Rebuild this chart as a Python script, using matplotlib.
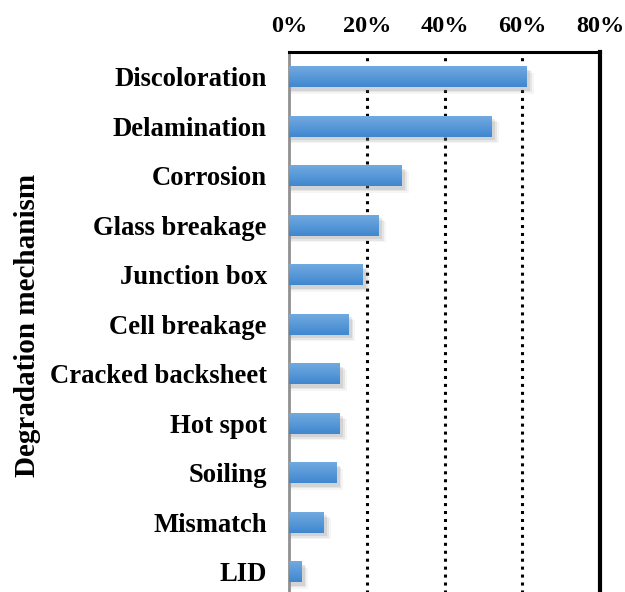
import matplotlib.pyplot as plt
import numpy as np
from matplotlib.colors import LinearSegmentedColormap
from matplotlib.ticker import PercentFormatter

plt.rcParams['font.family'] = ['Liberation Serif', 'DejaVu Serif']
plt.rcParams['font.weight'] = 'bold'

# data
mechanisms = ['Discoloration', 'Delamination', 'Corrosion', 'Glass breakage',
              'Junction box', 'Cell breakage', 'Cracked backsheet', 'Hot spot',
              'Soiling', 'Mismatch', 'LID']
shares = [61.2, 52.2, 29.0, 23.1, 19.0, 15.2, 13.1, 13.1, 12.1, 9.0, 3.1]

fig = plt.figure(figsize=(6.25, 5.92), dpi=100)
ax = fig.add_axes([0.4624, -0.0076, 0.4976, 0.9196])

y = np.arange(len(mechanisms))
h = 0.42

# soft drop shadow
for dx, dy, a in [(1.8, 0.13, 0.08), (1.3, 0.10, 0.12), (0.9, 0.07, 0.18)]:
    ax.barh(y + dy, np.array(shares) + dx, height=h, left=0, color='gray',
            alpha=a, linewidth=0, zorder=2)

bars = ax.barh(y, shares, height=h, color='#5b9bd5', linewidth=0, zorder=3)

# vertical gradient on each bar
grad = np.linspace(0, 1, 64).reshape(-1, 1)
cmap = LinearSegmentedColormap.from_list('b', ['#72aae0', '#3f87cf'])
for b in bars:
    x0, y0 = b.get_x(), b.get_y()
    im = ax.imshow(grad, cmap=cmap, aspect='auto', zorder=4,
                   extent=[x0, x0 + b.get_width(), y0 + b.get_height(), y0],
                   interpolation='bicubic')
    im.set_clip_path(b)

ax.set_xlim(0, 80)
ax.set_ylim(len(mechanisms) - 0.5, -0.5)
ax.set_xticks([0, 20, 40, 60, 80])
ax.xaxis.set_major_formatter(PercentFormatter(decimals=0))
ax.xaxis.tick_top()
ax.set_yticks(y)
ax.set_yticklabels(mechanisms)
ax.tick_params(axis='y', length=0, labelsize=19.2, pad=16)
ax.tick_params(axis='x', length=0, labelsize=17.5, pad=11)

for xv in [20, 40, 60]:
    ax.axvline(xv, color='black', linestyle=(0, (1, 1.6)), linewidth=2.2, zorder=1)

ax.spines['top'].set_linewidth(2.2)
ax.spines['right'].set_linewidth(3)
ax.spines['bottom'].set_visible(False)
ax.spines['left'].set_color('#909090')
ax.spines['left'].set_linewidth(2)

fig.text(0.044, 0.451, 'Degradation mechanism', rotation=90, ha='center',
         va='center', fontsize=21, fontweight='bold')

fig.savefig('out.png', dpi=100)
